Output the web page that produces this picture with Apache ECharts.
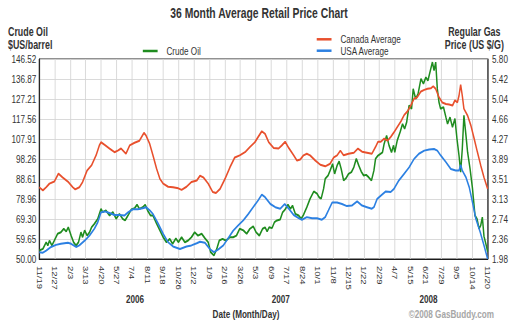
<!DOCTYPE html>
<html>
<head>
<meta charset="utf-8">
<script src="https://cdn.jsdelivr.net/npm/echarts@6/dist/echarts.min.js"></script>
<style>
  html, body { margin: 0; padding: 0; background: #fff; overflow: hidden; width: 518px; height: 325px; }
  /* the chart is laid out on a 700px canvas and narrowed to the 518px frame */
  #chart { width: 700px; height: 325px; transform: scaleX(0.74); transform-origin: 0 0; }
</style>
</head>
<body>
<div id="chart"></div>
<script>
// Day offsets count from 2005-11-19.
const xTickLabels = ['11/19','12/27','2/3','3/13','4/20','5/27','7/4','8/11','9/18','10/26','12/2',
  '1/9','2/16','3/26','5/3','6/9','7/17','8/24','10/1','11/8','12/15',
  '1/22','2/29','4/7','5/15','6/21','7/29','9/5','10/14','11/20'];
const crudeTickLabels = ['50.00','59.65','69.30','78.96','88.61','98.26','107.91','117.56','127.21','136.87','146.52'];
const gasTickLabels = ['1.98','2.36','2.74','3.13','3.51','3.89','4.27','4.66','5.04','5.42','5.80'];
const yearLabels = ['2006', '2007', '2008'];

// Crude oil, $US per barrel
const crudeDay = [0,9,17,21,25,31,37,45,53,60,
  66,71,78,84,90,96,102,106,111,117,
  123,128,135,143,151,155,163,172,180,188,
  196,204,210,217,225,233,239,245,253,259,
  265,272,278,287,295,303,311,319,326,334,
  340,348,356,364,372,380,388,397,405,413,
  419,427,434,440,448,456,466,474,482,490,
  499,507,515,523,530,538,546,552,557,562,
  569,575,581,589,595,601,608,614,619,626,
  634,640,646,654,662,671,679,684,689,695,
  699,706,711,717,722,728,733,738,744,750,
  756,763,769,775,781,787,793,799,805,812,
  818,822,828,839,843,849,855,861,866,869,
  875,882,888,893,898,904,910,914,920,926,
  933,939,945,950,957,961,965,969,973,977,
  981,988,994,998,1004,1010,1016,1021,1026,1030,
  1034,1038,1043,1047,1053,1059,1065,1070,1075,1079,
  1083,1087,1092,1096];
const crudePrice = [54.1,54.9,58.1,56.5,58.9,56.5,58.9,62.2,62.9,64.6,
  63.3,65.3,61.3,58.1,56.5,58.1,62.9,60.5,63.8,61.3,
  62.9,65.3,67.0,69.4,74.2,72.6,73.4,71.0,72.6,69.4,
  71.8,69.4,68.6,71.0,73.9,74.5,76.2,74.2,75.0,76.2,
  73.4,71.0,71.0,67.0,63.8,60.5,58.1,59.7,57.3,60.0,
  58.1,60.5,58.1,58.9,60.5,62.9,61.3,62.2,60.0,58.1,
  53.3,51.7,54.9,58.9,59.7,58.9,60.5,60.5,61.3,64.6,
  63.8,62.2,64.6,65.8,62.9,61.3,64.6,65.3,63.3,65.3,
  64.9,67.8,68.6,69.1,72.6,73.9,76.2,74.2,75.8,71.8,
  71.0,69.4,71.3,75.0,79.1,82.6,81.5,79.8,79.1,83.9,
  88.7,90.3,92.7,95.9,91.1,95.1,97.1,93.5,87.9,89.0,
  91.1,91.9,94.3,98.4,95.1,92.2,90.3,90.6,89.5,87.9,
  92.7,98.4,99.9,101.5,105.6,109.6,104.8,101.5,104.8,101.5,
  107.2,111.2,115.2,112.8,116.0,124.1,122.5,132.1,127.3,129.7,
  137.0,134.6,137.7,136.1,141.8,145.0,141.0,145.0,132.1,125.7,
  122.5,123.3,118.4,115.2,118.4,113.6,117.7,108.0,99.9,91.9,
  103.2,119.3,109.6,101.5,93.5,83.9,71.0,69.4,64.6,66.2,
  70.2,61.0,57.0,53.5];

// Canada average regular gas, US $ per gallon
const canadaDay = [0,9,17,25,37,47,57,70,82,88,
  98,106,117,128,139,147,151,160,172,184,
  192,200,212,221,233,245,256,261,270,278,
  287,295,303,315,327,340,348,360,372,385,
  393,401,413,424,432,442,454,466,478,490,
  503,515,527,535,544,552,561,573,585,593,
  601,610,622,630,638,646,654,662,675,687,
  699,711,720,728,736,744,756,769,779,789,
  801,813,822,828,835,843,851,859,867,875,
  884,892,900,908,916,924,933,941,949,957,
  963,969,977,985,994,1002,1010,1016,1022,1026,
  1030,1034,1038,1047,1055,1063,1071,1079,1087,1096];
const canadaPrice = [3.35,3.29,3.35,3.42,3.46,3.61,3.54,3.46,3.35,3.31,
  3.35,3.45,3.67,3.77,3.96,4.15,4.21,4.16,4.09,4.02,
  4.05,4.09,3.99,4.15,4.20,4.24,4.39,4.34,4.18,3.96,
  3.70,3.51,3.42,3.36,3.35,3.33,3.30,3.36,3.45,3.48,
  3.57,3.54,3.42,3.26,3.24,3.32,3.51,3.73,3.92,3.96,
  4.02,4.12,4.21,4.31,4.42,4.37,4.21,4.10,4.09,4.15,
  4.22,4.10,3.96,3.86,3.88,3.96,3.99,3.96,3.86,3.78,
  3.75,3.80,3.92,3.96,4.05,3.96,3.99,4.01,4.09,4.03,
  4.01,3.99,4.12,4.22,4.22,4.28,4.24,4.31,4.40,4.50,
  4.61,4.73,4.80,4.91,5.04,5.07,5.18,5.21,5.23,5.24,
  5.28,5.23,5.07,4.97,4.94,4.93,4.91,5.01,4.97,5.10,
  5.31,5.10,4.85,4.72,4.53,4.28,4.02,3.77,3.54,3.32];

// USA average regular gas, US $ per gallon
const usaDay = [0,9,17,29,41,53,70,78,90,98,
  111,123,135,143,151,160,172,184,196,208,
  217,229,241,253,261,270,278,291,303,315,
  327,344,360,372,385,393,405,417,427,437,
  450,462,474,486,499,511,523,535,544,552,
  565,577,589,600,610,622,634,642,654,667,
  679,691,699,707,716,728,740,752,764,777,
  789,801,813,818,826,835,847,859,867,879,
  892,904,916,928,941,953,965,973,981,994,
  1006,1018,1026,1030,1034,1043,1051,1059,1067,1078,
  1087,1096];
const usaPrice = [2.11,2.10,2.14,2.21,2.25,2.27,2.29,2.27,2.21,2.24,
  2.33,2.43,2.56,2.68,2.87,2.89,2.86,2.82,2.82,2.81,
  2.87,2.93,2.93,2.95,2.97,2.91,2.84,2.65,2.46,2.30,
  2.22,2.17,2.22,2.24,2.28,2.31,2.29,2.17,2.11,2.16,
  2.24,2.38,2.52,2.62,2.72,2.84,2.97,3.10,3.21,3.16,
  3.03,2.97,2.94,3.03,2.94,2.82,2.76,2.73,2.78,2.76,
  2.76,2.73,2.78,2.91,3.06,3.06,3.03,2.99,3.00,3.08,
  3.00,2.97,2.94,2.97,3.13,3.19,3.27,3.26,3.32,3.48,
  3.61,3.73,3.89,3.99,4.05,4.07,4.08,4.05,3.96,3.83,
  3.70,3.67,3.67,3.78,3.67,3.54,3.35,3.06,2.75,2.49,
  2.24,1.98];

const FONT = '"Liberation Sans", Arial, Helvetica, sans-serif';
const GREEN = '#1f8c1f';
const RED = '#e8502d';
const BLUE = '#2c80e2';
const GRID = '#d4d4d4';
const xStep = 1096 / 29;
const crudeMin = 50, crudeMax = 146.52, crudeStep = 9.652;
const gasMin = 1.98, gasMax = 5.80, gasStep = 0.382;

const pairs = (days, vals) => days.map((d, i) => [d, vals[i]]);
const legendText = { fontFamily: FONT, fontSize: 11, color: '#333', lineHeight: 11.4, padding: [0, 0, 0, 7] };
const tickText = { fontFamily: FONT, fontSize: 11, color: '#333' };

const chart = echarts.init(document.getElementById('chart'), null, { renderer: 'svg', width: 700, height: 325 });
chart.setOption({
  animation: false,
  backgroundColor: '#fff',
  title: {
    text: '36 Month Average Retail Price Chart',
    left: 'center', top: 6, padding: 0,
    textStyle: { fontFamily: FONT, fontSize: 14, fontWeight: 'bold', color: '#333' }
  },
  legend: [
    { data: ['Crude Oil'], left: 193, top: 45.3, padding: 0, icon: 'rect',
      itemWidth: 20, itemHeight: 2.5, textStyle: legendText, selectedMode: false },
    { data: ['Canada Average', 'USA Average'], orient: 'vertical', left: 428, top: 33.6, padding: 0,
      itemGap: 0, icon: 'rect', itemWidth: 20, itemHeight: 2.5, textStyle: legendText, selectedMode: false }
  ],
  grid: { left: 53, top: 59, width: 606, height: 200, show: true, borderColor: '#000', borderWidth: 1,
    backgroundColor: 'transparent', outerBoundsMode: 'none' },
  xAxis: {
    type: 'value', min: 0, max: 1096, interval: xStep,
    axisLine: { show: true, lineStyle: { color: '#000', width: 1 } },
    axisTick: { show: false },
    splitLine: { show: true, lineStyle: { color: GRID, width: 1 } },
    axisLabel: { rotate: -90, margin: 7, fontFamily: FONT, fontSize: 9.5, color: '#333',
      formatter: v => xTickLabels[Math.round(v / xStep)] || '' }
  },
  yAxis: [
    { type: 'value', position: 'left', min: crudeMin, max: crudeMax, interval: crudeStep,
      axisLine: { show: true, lineStyle: { color: '#000' } }, axisTick: { show: false },
      splitLine: { show: true, lineStyle: { color: GRID } },
      axisLabel: Object.assign({ margin: 4,
        formatter: v => crudeTickLabels[Math.round((v - crudeMin) / crudeStep)] || '' }, tickText) },
    { type: 'value', position: 'right', min: gasMin, max: gasMax, interval: gasStep,
      axisLine: { show: true, lineStyle: { color: '#000' } }, axisTick: { show: false },
      splitLine: { show: false },
      axisLabel: Object.assign({ margin: 6,
        formatter: v => gasTickLabels[Math.round((v - gasMin) / gasStep)] || '' }, tickText) }
  ],
  series: [
    { name: 'Crude Oil', type: 'line', yAxisIndex: 0, data: pairs(crudeDay, crudePrice),
      showSymbol: false, symbol: 'none', lineStyle: { width: 2, color: GREEN }, itemStyle: { color: GREEN }, z: 2 },
    { name: 'Canada Average', type: 'line', yAxisIndex: 1, data: pairs(canadaDay, canadaPrice),
      showSymbol: false, symbol: 'none', lineStyle: { width: 2, color: RED }, itemStyle: { color: RED }, z: 3 },
    { name: 'USA Average', type: 'line', yAxisIndex: 1, data: pairs(usaDay, usaPrice),
      showSymbol: false, symbol: 'none', lineStyle: { width: 2, color: BLUE }, itemStyle: { color: BLUE }, z: 4 }
  ],
  graphic: [
    { type: 'text', x: 10.8, y: 25, style: { text: 'Crude Oil\n$US/barrel', font: 'bold 12px ' + FONT,
      fill: '#333', lineHeight: 13, textVerticalAlign: 'top' } },
    { type: 'text', x: 641, y: 25, style: { text: 'Regular Gas\nPrice (US $/G)', font: 'bold 12px ' + FONT,
      fill: '#333', lineHeight: 13, textAlign: 'center', textVerticalAlign: 'top' } },
    { type: 'text', x: 182.4, y: 299, style: { text: yearLabels[0], font: 'bold 11px ' + FONT, fill: '#333',
      textAlign: 'center', textVerticalAlign: 'middle' } },
    { type: 'text', x: 379.5, y: 299, style: { text: yearLabels[1], font: 'bold 11px ' + FONT, fill: '#333',
      textAlign: 'center', textVerticalAlign: 'middle' } },
    { type: 'text', x: 579, y: 299, style: { text: yearLabels[2], font: 'bold 11px ' + FONT, fill: '#333',
      textAlign: 'center', textVerticalAlign: 'middle' } },
    { type: 'text', x: 332.4, y: 314, style: { text: 'Date (Month/Day)', font: 'bold 11px ' + FONT, fill: '#333',
      textAlign: 'center', textVerticalAlign: 'middle' } },
    { type: 'text', x: 610, y: 314, style: { text: '\u00A92008 GasBuddy.com', font: 'bold 11px ' + FONT, fill: '#a6a6a6',
      textAlign: 'center', textVerticalAlign: 'middle' } }
  ]
});
</script>
</body>
</html>
